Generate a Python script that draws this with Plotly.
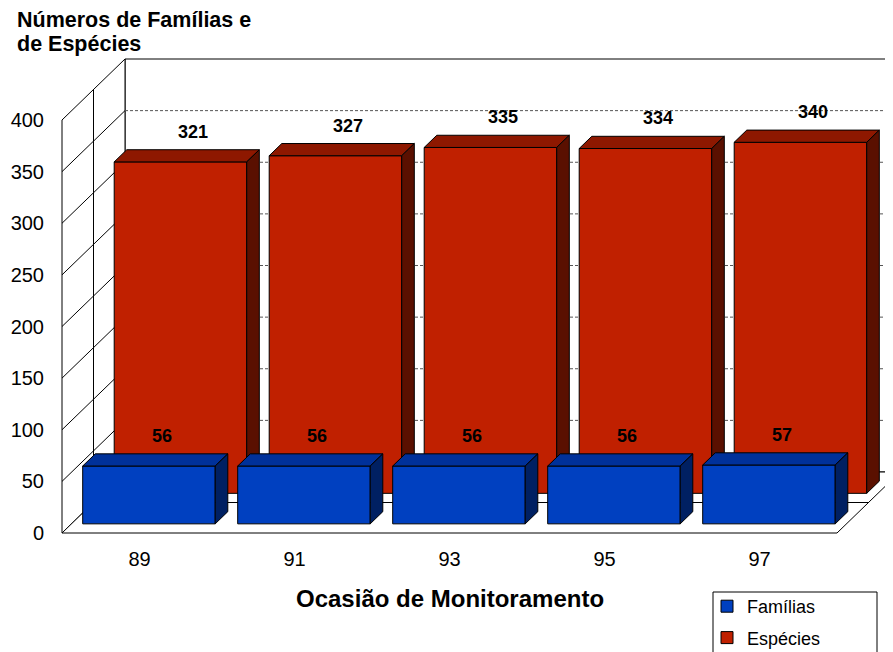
import plotly.graph_objects as go

categories = ["89", "91", "93", "95", "97"]
familias = [56, 56, 56, 56, 57]
especies = [321, 327, 335, 334, 340]
y_ticks = [0, 50, 100, 150, 200, 250, 300, 350, 400]

FONT = "Liberation Sans, Arial, sans-serif"

# fake 3D: full floor depth shifts a point by (DX categories, DY value units)
DX, DY = 63 / 155, 61 / 1.0325
BAR_W = 0.855
ROW_FRONT = (0.15, 0.35)   # depth span of the Famílias row
ROW_BACK = (0.65, 0.85)    # depth span of the Espécies row
TOP_V = 400

# page pixels; the page body adds an 8px margin around the figure
PAGE_W, PAGE_H, OFF = 893, 652, 8
W, H = PAGE_W - OFF, PAGE_H - OFF
PLOT_L, PLOT_R, PLOT_T, PLOT_B = 55, 893, 50, 540      # plot area, page pixels
X0_PX, Y0_PX, PX_PER_CAT, PX_PER_UNIT = 62, 533, 155, 1.0325
x_range = [(PLOT_L - X0_PX) / PX_PER_CAT, (PLOT_R - X0_PX) / PX_PER_CAT]
y_range = [(Y0_PX - PLOT_B) / PX_PER_UNIT, (Y0_PX - PLOT_T) / PX_PER_UNIT]
plot_w, plot_h = PLOT_R - PLOT_L, PLOT_B - PLOT_T


def paper_x(px):
    return (px - PLOT_L) / plot_w


def paper_y(py):
    return (PLOT_B - py) / plot_h


def pt(c, v, d):
    return c + DX * d, v + DY * d


def polys(shapes, fill, lw=1):
    xs, ys = [], []
    for shape in shapes:
        for c, v, d in shape + [shape[0]]:
            x, y = pt(c, v, d)
            xs.append(x)
            ys.append(y)
        xs.append(None)
        ys.append(None)
    return go.Scatter(x=xs, y=ys, mode="lines", fill="toself", fillcolor=fill,
                      line=dict(color="black", width=lw), hoverinfo="skip",
                      showlegend=False)


def segs(lines, color="black", dash="solid", lw=1):
    xs, ys = [], []
    for a, b in lines:
        for c, v, d in (a, b):
            x, y = pt(c, v, d)
            xs.append(x)
            ys.append(y)
        xs.append(None)
        ys.append(None)
    return go.Scatter(x=xs, y=ys, mode="lines", line=dict(color=color, width=lw, dash=dash),
                      hoverinfo="skip", showlegend=False)


def bar_faces(values, row):
    d0, d1 = row
    gap = (1 - BAR_W) / 2
    front, top, side = [], [], []
    for i, v in enumerate(values):
        c0, c1 = i + gap, i + 1 - gap
        front.append([(c0, 0, d0), (c1, 0, d0), (c1, v, d0), (c0, v, d0)])
        top.append([(c0, v, d0), (c1, v, d0), (c1, v, d1), (c0, v, d1)])
        side.append([(c1, 0, d0), (c1, 0, d1), (c1, v, d1), (c1, v, d0)])
    return front, top, side


n = len(categories)
far = n + 1  # back wall runs off the right edge
fig = go.Figure()

# walls and floor
fig.add_trace(polys([[(0, 0, 1), (far, 0, 1), (far, TOP_V, 1), (0, TOP_V, 1)]], "white"))
fig.add_trace(polys([[(0, 0, 0), (0, TOP_V, 0), (0, TOP_V, 1), (0, 0, 1)]], "white"))
fig.add_trace(polys([[(0, 0, 0), (n, 0, 0), (n, 0, 1), (0, 0, 1)]], "white"))
grid_v = y_ticks[1:-1]
fig.add_trace(segs([((0, v, 1), (far, v, 1)) for v in grid_v], color="#555555", dash="3px,2px"))
fig.add_trace(segs([((0, v, 0), (0, v, 1)) for v in grid_v]))
fig.add_trace(segs([((0, 0, 0.5), (0, TOP_V, 0.5)), ((0, 0, 0.5), (n, 0, 0.5))]))

# Espécies (back row) then Famílias (front row)
for values, row, cols in [(especies, ROW_BACK, ("#C02000", "#8E1800", "#5A1000")),
                          (familias, ROW_FRONT, ("#0040C0", "#00319A", "#002062"))]:
    front, top, side = bar_faces(values, row)
    fig.add_trace(polys(front, cols[0]))
    fig.add_trace(polys(top, cols[1]))
    fig.add_trace(polys(side, cols[2]))

# legend entries
fig.add_trace(go.Bar(x=[None], y=[None], name="Famílias", legendgroup="f",
                     marker=dict(color="#0040C0", line=dict(color="black", width=1))))
fig.add_trace(go.Bar(x=[None], y=[None], name="Espécies", legendgroup="e",
                     marker=dict(color="#C02000", line=dict(color="black", width=1))))

# value labels above each bar (at its rear top edge)
for values, row in [(especies, ROW_BACK), (familias, ROW_FRONT)]:
    for i, v in enumerate(values):
        x, y = pt(i + 0.5, v, row[1])
        fig.add_annotation(x=x, y=y, text=f"<b>{v}</b>", showarrow=False,
                           yanchor="bottom", yshift=6,
                           font=dict(family=FONT, size=18, color="black"))

fig.add_annotation(x=n / 2, xref="x", y=paper_y(598), yref="paper",
                   text="<b>Ocasião de Monitoramento</b>", showarrow=False,
                   yanchor="middle", font=dict(family=FONT, size=24, color="black"))
# chart title, one annotation per line to keep Excel's tight line spacing
for text, mid in [("<b>Números de Famílias e</b>", 20), ("<b>de Espécies</b>", 44)]:
    fig.add_annotation(x=paper_x(15), xref="paper", xanchor="left",
                       y=paper_y(mid), yref="paper", yanchor="middle",
                       text=text, showarrow=False,
                       font=dict(family=FONT, size=21.5, color="black"))

# legend frame (wider than plotly's own box, runs off the bottom edge)
fig.add_shape(type="rect", xref="paper", yref="paper",
              x0=paper_x(713), x1=paper_x(877), y0=paper_y(592), y1=paper_y(664),
              line=dict(color="black", width=1), fillcolor="rgba(0,0,0,0)")

fig.update_layout(
    width=W, height=H,
    margin=dict(l=PLOT_L - OFF, r=PAGE_W - PLOT_R, t=PLOT_T - OFF, b=PAGE_H - PLOT_B,
                autoexpand=False),
    paper_bgcolor="white", plot_bgcolor="white",
    font=dict(family=FONT, color="black"),
    showlegend=True,
    legend=dict(x=paper_x(707), xanchor="left", y=paper_y(588), yanchor="top",
                borderwidth=0, bgcolor="rgba(0,0,0,0)",
                font=dict(family=FONT, size=18), traceorder="grouped",
                tracegroupgap=5),
)
fig.update_xaxes(range=x_range, tickvals=[i + 0.5 for i in range(n)], ticktext=categories,
                 showgrid=False, zeroline=False, showline=False, ticks="",
                 tickfont=dict(size=20), ticklabelstandoff=5, fixedrange=True)
fig.update_yaxes(range=y_range, tickvals=y_ticks, showgrid=False, zeroline=False,
                 showline=False, ticks="", tickfont=dict(size=20),
                 ticklabelstandoff=10, fixedrange=True)

fig.write_html("out.html")
